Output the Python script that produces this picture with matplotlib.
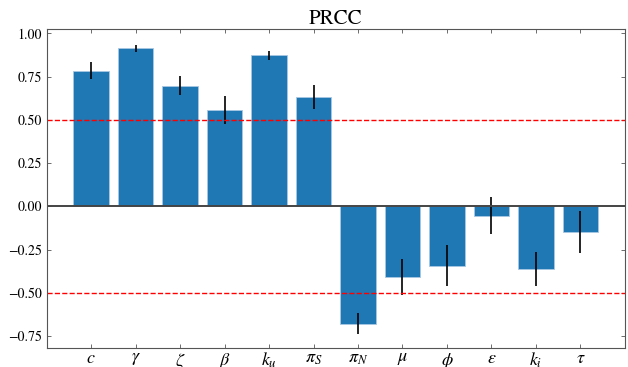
import matplotlib
matplotlib.use('Agg')
import matplotlib.pyplot as plt
import numpy as np

plt.rcParams['font.family'] = 'STIXGeneral'
plt.rcParams['mathtext.fontset'] = 'stix'

params = [r'$c$', r'$\gamma$', r'$\zeta$', r'$\beta$', r'$k_u$', r'$\pi_S$',
          r'$\pi_N$', r'$\mu$', r'$\phi$', r'$\varepsilon$', r'$k_i$', r'$\tau$']
prcc = [0.785, 0.913, 0.698, 0.555, 0.874, 0.631,
        -0.679, -0.41, -0.344, -0.056, -0.36, -0.149]
err = [0.049, 0.02, 0.056, 0.081, 0.026, 0.068,
       0.062, 0.105, 0.119, 0.107, 0.098, 0.121]

fig = plt.figure(figsize=(6.28, 3.67), dpi=100)
ax = fig.add_axes([0.0744, 0.051, 0.9206, 0.869])

x = np.arange(len(params))
ax.bar(x, prcc, width=0.8, color='#1f77b4', edgecolor='#a9c8e4', linewidth=0.6)
ax.errorbar(x, prcc, yerr=err, fmt='none', ecolor='k', elinewidth=1.2)
ax.axhline(0, color='#444444', linewidth=1.4)
ax.axhline(0.5, color='red', linestyle='--', linewidth=1)
ax.axhline(-0.5, color='red', linestyle='--', linewidth=1)

ax.set_xlim(-1, 12)
ax.set_ylim(-0.821, 1.023)
ax.set_yticks([-0.75, -0.5, -0.25, 0, 0.25, 0.5, 0.75, 1.0])
ax.set_xticks(x)
ax.set_xticklabels(params, fontsize=13)
ax.tick_params(direction='in', top=True, right=True, length=3, width=0.6, color='#555555')
ax.tick_params(axis='x', pad=2)
ax.tick_params(axis='y', labelsize=10)
for s in ax.spines.values():
    s.set_color('#555555')
    s.set_linewidth(0.8)
ax.set_title('PRCC', fontsize=15, pad=4)

fig.savefig('out.png', dpi=100)
